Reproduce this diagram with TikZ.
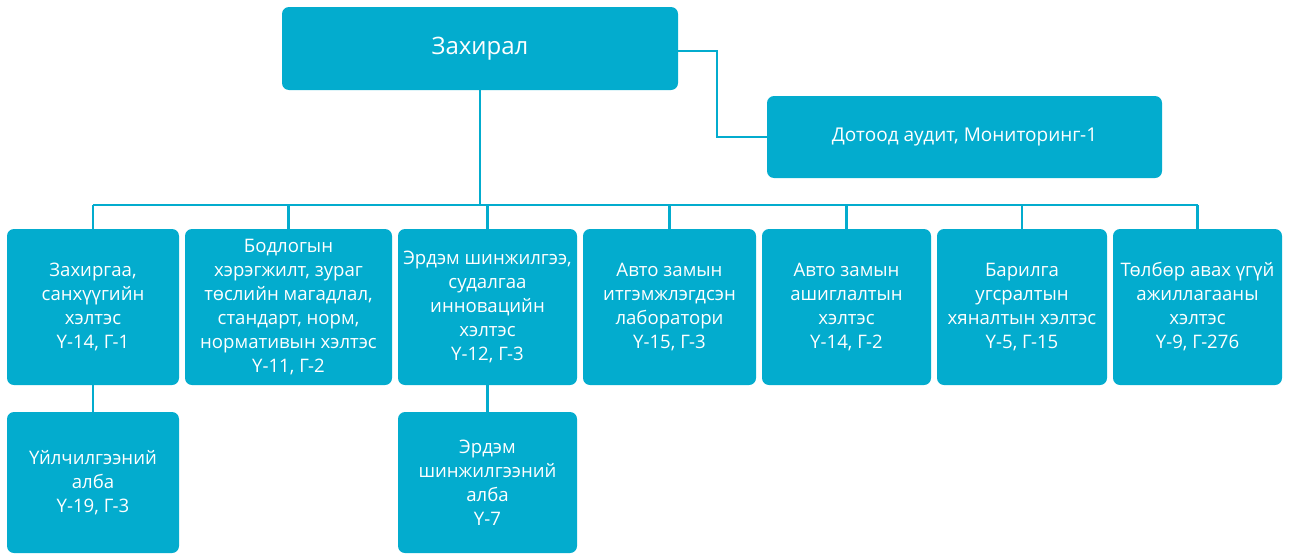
\documentclass[tikz,border=0pt]{standalone}
\usepackage{fontspec}
\setmainfont{Open Sans}
\definecolor{boxc}{HTML}{03ACCE}
\begin{document}
\begin{tikzpicture}[x={(1pt,0)},y={(0,-1pt)},
  orgbox/.style={fill=boxc, rounded corners=7pt, text=white, align=center,
    inner sep=0pt, font=\fontsize{18.6}{24}\selectfont},
  conn/.style={draw=boxc, line width=2.5pt}]
\useasboundingbox (0,0) rectangle (1292,554);
\node[orgbox, minimum width=396pt, minimum height=83pt, font=\fontsize{24}{30}\selectfont] (dir) at (480,48.5) {\raisebox{-2pt}{Захирал}};
\node[orgbox, minimum width=395pt, minimum height=82pt, font=\fontsize{19}{24}\selectfont] (aud) at (964.5,137) {Дотоод аудит, Мониторинг-1};
\node[orgbox, minimum width=172pt, minimum height=156pt] (c1) at (93,307) {Захиргаа,\\санхүүгийн\\хэлтэс\\Ү-14, Г-1};
\node[orgbox, minimum width=207pt, minimum height=156pt] (c2) at (288.5,307) {Бодлогын\\хэрэгжилт, зураг\\төслийн магадлал,\\стандарт, норм,\\нормативын хэлтэс\\Ү-11, Г-2};
\node[orgbox, minimum width=179pt, minimum height=156pt] (c3) at (487.5,307) {Эрдэм шинжилгээ,\\судалгаа\\инновацийн\\хэлтэс\\Ү-12, Г-3};
\node[orgbox, minimum width=173pt, minimum height=156pt] (c4) at (669.5,307) {Авто замын\\итгэмжлэгдсэн\\лаборатори\\Ү-15, Г-3};
\node[orgbox, minimum width=169pt, minimum height=156pt] (c5) at (846.5,307) {Авто замын\\ашиглалтын\\хэлтэс\\Ү-14, Г-2};
\node[orgbox, minimum width=170pt, minimum height=156pt] (c6) at (1022,307) {Барилга\\угсралтын\\хяналтын хэлтэс\\Ү-5, Г-15};
\node[orgbox, minimum width=169pt, minimum height=156pt] (c7) at (1197.5,307) {Төлбөр авах үгүй\\ажиллагааны\\хэлтэс\\Ү-9, Г-276};
\node[orgbox, minimum width=172pt, minimum height=141pt] (s1) at (93,482.5) {Үйлчилгээний\\алба\\Ү-19, Г-3};
\node[orgbox, minimum width=179pt, minimum height=141pt] (s3) at (487.5,482.5) {Эрдэм\\шинжилгээний\\алба\\Ү-7};
\coordinate (busL) at (93,205);
\coordinate (busR) at (1197.5,205);
\coordinate (kneeT) at (717,51);
\draw[conn] (busL) -- (busR);
\draw[conn] (dir.south) -- (dir.south |- busL);
\foreach \c in {c1,c2,c3,c4,c5,c6,c7} {\draw[conn] (\c.north) -- (\c.north |- busL);}
\draw[conn] (dir.east |- kneeT) -- (kneeT) |- (aud.west);
\draw[conn] (c1.south) -- (s1.north);
\draw[conn] (c3.south) -- (s3.north);
\end{tikzpicture}
\end{document}
